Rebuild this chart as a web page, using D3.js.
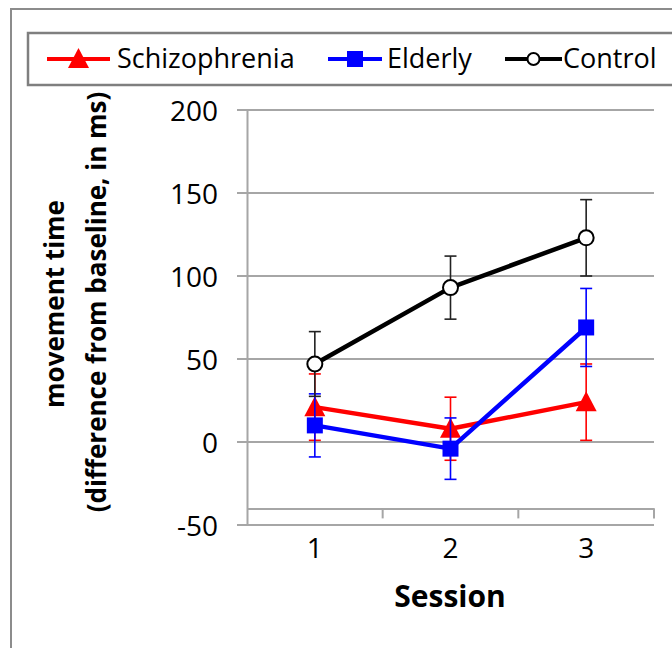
<!DOCTYPE html>
<html>
<head>
<meta charset="utf-8">
<script src="https://cdn.jsdelivr.net/npm/d3@7"></script>
<style>
html,body{margin:0;padding:0;background:#fff;}
svg{display:block;font-family:"Open Sans",sans-serif;}
</style>
</head>
<body>
<svg id="chart" width="672" height="648"></svg>
<script>
// ---- data ----
const sessions = ["1", "2", "3"];
const seriesNames = ["Schizophrenia", "Elderly", "Control"];
const schizophrenia = [21, 8, 24];
const schizophreniaErr = [20, 19, 23];
const elderly = [10, -4, 69];
const elderlyErr = [19, 18.5, 23.5];
const control = [47, 93, 123];
const controlErr = [19.5, 19, 23];
const yTicks = [-50, 0, 50, 100, 150, 200];
const yTickLabels = ["-50", "0", "50", "100", "150", "200"];
const xTitle = "Session";
const yTitle1 = "movement time";
const yTitle2 = "(difference from baseline, in ms)";

const svg = d3.select("#chart");
const gridColor = "#a6a6a6";

// outer border
svg.append("rect").attr("x", 11).attr("y", 9).attr("width", 700).attr("height", 700)
  .attr("fill", "none").attr("stroke", "#8c8c8c").attr("stroke-width", 2);

const x = d3.scaleBand().domain(sessions).range([247, 654]);
const y = d3.scaleLinear().domain([-50, 200]).range([525, 110]);

// gridlines
svg.append("g").selectAll("line").data(yTicks).join("line")
  .attr("x1", 237).attr("x2", 654)
  .attr("y1", d => y(d)).attr("y2", d => y(d))
  .attr("stroke", gridColor).attr("stroke-width", 2);

// y axis
const yAxis = svg.append("g").attr("transform", "translate(247,0)")
  .call(d3.axisLeft(y).tickValues(yTicks).tickSize(0).tickPadding(29)
    .tickFormat((d, i) => yTickLabels[i]));
yAxis.select(".domain").attr("stroke", gridColor).attr("stroke-width", 2);
yAxis.selectAll("text").attr("font-size", 28).attr("fill", "#000")
  .attr("font-family", "Open Sans").attr("dy", "0.36em");

// x axis (crosses at -40)
const xAxis = svg.append("g").attr("transform", `translate(0,${y(-40)})`)
  .call(d3.axisBottom(x).tickSize(0).tickPadding(30));
xAxis.select(".domain").attr("stroke", gridColor).attr("stroke-width", 2);
xAxis.selectAll("text").attr("font-size", 28).attr("fill", "#000").attr("font-family", "Open Sans");
// category boundary ticks
const bounds = [x.range()[0] + x.bandwidth(), x.range()[0] + 2 * x.bandwidth(), x.range()[1]];
xAxis.append("g").selectAll("line").data(bounds).join("line")
  .attr("x1", d => d).attr("x2", d => d).attr("y1", 0).attr("y2", 10)
  .attr("stroke", gridColor).attr("stroke-width", 2);

// titles
svg.append("text").attr("x", 450).attr("y", 607).attr("text-anchor", "middle")
  .attr("font-size", 30).attr("font-weight", "bold").text(xTitle);
svg.append("text").attr("transform", "translate(64,304) rotate(-90)").attr("text-anchor", "middle")
  .attr("font-size", 26).attr("font-weight", "bold").text(yTitle1);
svg.append("text").attr("transform", "translate(106,302) rotate(-90)").attr("text-anchor", "middle")
  .attr("font-size", 26).attr("font-weight", "bold").text(yTitle2);

// series
const series = [
  {name: seriesNames[0], vals: schizophrenia, err: schizophreniaErr, color: "#ff0000", errColor: "#ff0000", marker: "tri"},
  {name: seriesNames[1], vals: elderly, err: elderlyErr, color: "#0000ff", errColor: "#0000ff", marker: "sq"},
  {name: seriesNames[2], vals: control, err: controlErr, color: "#000000", errColor: "#222222", marker: "circ"}
];

function drawMarker(g, type, cx, cy, color, scale) {
  const s = scale || 1;
  if (type === "tri") {
    const w = 21 * s, h = 20 * s;
    g.append("path").attr("d", `M${cx},${cy - h * 0.55} L${cx + w / 2},${cy + h * 0.45} L${cx - w / 2},${cy + h * 0.45} Z`)
      .attr("fill", color);
  } else if (type === "sq") {
    const a = 16 * s;
    g.append("rect").attr("x", cx - a / 2).attr("y", cy - a / 2).attr("width", a).attr("height", a).attr("fill", color);
  } else {
    g.append("circle").attr("cx", cx).attr("cy", cy).attr("r", 7.5 * s)
      .attr("fill", "#fff").attr("stroke", color).attr("stroke-width", 2);
  }
}

const cxOf = d => x(d) + x.bandwidth() / 2;
const line = d3.line().x(d => cxOf(d.s)).y(d => y(d.v));

series.forEach(sr => {
  const g = svg.append("g");
  const pts = sessions.map((s, i) => ({s, v: sr.vals[i], e: sr.err[i]}));
  g.append("path").datum(pts).attr("d", line).attr("fill", "none")
    .attr("stroke", sr.color).attr("stroke-width", 4.5).attr("stroke-linejoin", "round");
  pts.forEach(p => {
    const cx = cxOf(p.s);
    g.append("line").attr("x1", cx).attr("x2", cx).attr("y1", y(p.v + p.e)).attr("y2", y(p.v - p.e))
      .attr("stroke", sr.errColor).attr("stroke-width", 1.6);
    [p.v + p.e, p.v - p.e].forEach(v => {
      g.append("line").attr("x1", cx - 6).attr("x2", cx + 6).attr("y1", y(v)).attr("y2", y(v))
        .attr("stroke", sr.errColor).attr("stroke-width", 1.6);
    });
  });
  pts.forEach(p => drawMarker(g, sr.marker, cxOf(p.s), y(p.v), sr.color, 1));
});

// legend
svg.append("rect").attr("x", 28).attr("y", 33).attr("width", 700).attr("height", 52)
  .attr("fill", "#fff").attr("stroke", "#7f7f7f").attr("stroke-width", 2.5);
const legendItems = [
  {x1: 47, x2: 110, tx: 117},
  {x1: 328, x2: 382, tx: 387},
  {x1: 505, x2: 562, tx: 563}
];
series.forEach((sr, i) => {
  const li = legendItems[i];
  const g = svg.append("g");
  g.append("line").attr("x1", li.x1).attr("x2", li.x2).attr("y1", 59).attr("y2", 59)
    .attr("stroke", sr.color).attr("stroke-width", 4);
  drawMarker(g, sr.marker, (li.x1 + li.x2) / 2, 59, sr.color, sr.marker === "circ" ? 0.8 : 1);
  g.append("text").attr("x", li.tx).attr("y", 68).attr("font-size", 27).attr("fill", "#000").text(sr.name);
});
</script>
</body>
</html>
